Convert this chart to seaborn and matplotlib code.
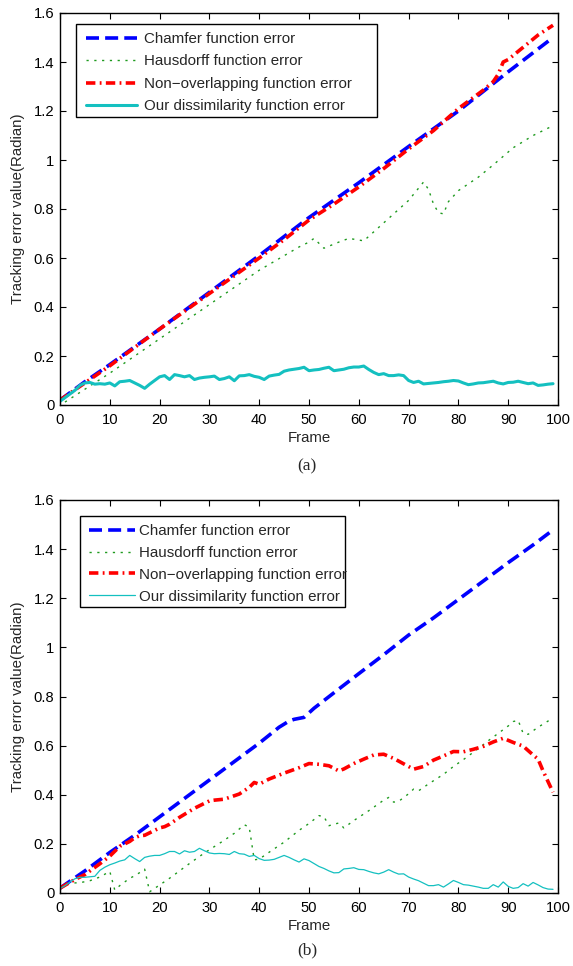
import matplotlib
matplotlib.use("Agg")
import matplotlib.pyplot as plt
from matplotlib.patches import Rectangle
import seaborn as sns

# ---------------- shared labels ----------------
series_names = ["Chamfer function error", "Hausdorff function error",
                "Non\u2212overlapping function error", "Our dissimilarity function error"]
x_ticks = [0, 10, 20, 30, 40, 50, 60, 70, 80, 90, 100]
y_ticks = [0, 0.2, 0.4, 0.6, 0.8, 1.0, 1.2, 1.4, 1.6]
y_tick_labels = ["0", "0.2", "0.4", "0.6", "0.8", "1", "1.2", "1.4", "1.6"]
x_label = "Frame"
y_label = "Tracking error value(Radian)"
panel_labels = ["(a)", "(b)"]

# ---------------- panel (a) ----------------
a_chamfer_frames = [0, 5, 10, 20, 30, 40, 50, 60, 70, 80, 90, 99]
a_chamfer_vals = [0.02, 0.095, 0.165, 0.31, 0.46, 0.61, 0.765, 0.907, 1.055, 1.2, 1.36, 1.50]

a_haus_frames = [1, 2, 10, 20, 30, 40, 48, 50, 51, 53, 56, 58, 61, 64, 67, 70, 73, 74,
                 75, 76, 77, 78, 80, 84, 87, 91, 95, 99]
a_haus_vals = [0.012, 0.025, 0.13, 0.27, 0.41, 0.55, 0.645, 0.665, 0.68, 0.64, 0.665, 0.68,
               0.67, 0.725, 0.78, 0.835, 0.91, 0.88, 0.82, 0.785, 0.78, 0.83, 0.875, 0.93,
               0.98, 1.05, 1.10, 1.14]

a_nonov_frames = [0, 5, 10, 20, 30, 40, 45, 50, 55, 60, 65, 70, 75, 80, 85, 87, 88, 89,
                  90, 93, 96, 99]
a_nonov_vals = [0.02, 0.09, 0.16, 0.31, 0.455, 0.60, 0.675, 0.755, 0.82, 0.89, 0.965, 1.045,
                1.12, 1.21, 1.285, 1.32, 1.35, 1.40, 1.41, 1.46, 1.51, 1.55]

a_ours_frames = list(range(100))
a_ours_vals = [0.015, 0.03, 0.045, 0.06, 0.08, 0.09, 0.092, 0.085, 0.087, 0.085,
               0.09, 0.078, 0.095, 0.097, 0.1, 0.09, 0.08, 0.068, 0.085, 0.1,
               0.115, 0.12, 0.104, 0.124, 0.12, 0.115, 0.12, 0.104, 0.11, 0.113,
               0.115, 0.118, 0.104, 0.108, 0.115, 0.099, 0.119, 0.12, 0.124, 0.117,
               0.113, 0.104, 0.118, 0.122, 0.125, 0.138, 0.143, 0.146, 0.149, 0.154,
               0.14, 0.143, 0.145, 0.15, 0.154, 0.14, 0.143, 0.146, 0.152, 0.155,
               0.155, 0.159, 0.145, 0.133, 0.124, 0.128, 0.12, 0.12, 0.123, 0.12,
               0.1, 0.092, 0.097, 0.086, 0.088, 0.09, 0.092, 0.095, 0.097, 0.1,
               0.098, 0.09, 0.083, 0.086, 0.09, 0.091, 0.094, 0.097, 0.09, 0.086,
               0.092, 0.093, 0.097, 0.092, 0.087, 0.09, 0.08, 0.082, 0.085, 0.087]

# ---------------- panel (b) ----------------
b_chamfer_frames = [0, 5, 10, 15, 20, 25, 30, 35, 40, 44, 46, 47, 49, 51, 55, 60, 65, 70,
                    75, 80, 85, 90, 95, 99]
b_chamfer_vals = [0.02, 0.09, 0.165, 0.235, 0.31, 0.385, 0.46, 0.535, 0.61, 0.675, 0.70,
                  0.707, 0.715, 0.752, 0.815, 0.893, 0.97, 1.05, 1.12, 1.195, 1.27, 1.345,
                  1.417, 1.478]

b_haus_frames = [0, 2, 4, 6, 8, 10, 11, 12, 13, 14, 15, 16, 17, 18, 22, 26, 29, 33, 35,
                 37, 38, 39, 40, 42, 45, 48, 50, 52, 53, 54, 55, 56, 57, 59, 62, 65, 66,
                 67, 68, 70, 71, 72, 74, 77, 79, 81, 84, 86, 88, 90, 91, 92, 93, 94, 96,
                 98, 99]
b_haus_vals = [0.02, 0.04, 0.042, 0.05, 0.065, 0.088, 0.012, 0.03, 0.045, 0.06, 0.07, 0.083,
               0.097, 0.005, 0.06, 0.12, 0.163, 0.215, 0.243, 0.278, 0.268, 0.135, 0.138,
               0.166, 0.207, 0.255, 0.283, 0.315, 0.311, 0.274, 0.28, 0.285, 0.265, 0.295,
               0.335, 0.378, 0.389, 0.37, 0.373, 0.404, 0.423, 0.416, 0.444, 0.483, 0.515,
               0.543, 0.588, 0.62, 0.65, 0.68, 0.698, 0.703, 0.65, 0.646, 0.675, 0.70, 0.714]

b_nonov_frames = [0, 3, 5, 8, 10, 12, 14, 15, 16, 17, 18, 20, 21, 22, 24, 27, 28, 30, 31,
                  33, 36, 38, 39, 40, 42, 45, 48, 50, 52, 54, 56, 57, 59, 61, 63, 65, 67,
                  69, 71, 73, 75, 77, 79, 81, 83, 85, 87, 89, 91, 93, 95, 96, 97, 99]
b_nonov_vals = [0.02, 0.055, 0.075, 0.119, 0.15, 0.19, 0.21, 0.225, 0.233, 0.235, 0.245,
                0.265, 0.27, 0.28, 0.308, 0.345, 0.355, 0.375, 0.378, 0.382, 0.403, 0.43,
                0.45, 0.443, 0.464, 0.488, 0.51, 0.527, 0.524, 0.518, 0.497, 0.505, 0.527,
                0.545, 0.562, 0.565, 0.548, 0.526, 0.504, 0.515, 0.541, 0.558, 0.576, 0.575,
                0.585, 0.597, 0.615, 0.63, 0.613, 0.598, 0.562, 0.545, 0.497, 0.41]

b_ours_frames = list(range(100))
b_ours_vals = [0.018, 0.03, 0.045, 0.058, 0.064, 0.064, 0.066, 0.068, 0.092, 0.105,
               0.115, 0.122, 0.13, 0.135, 0.153, 0.14, 0.128, 0.145, 0.15, 0.153,
               0.153, 0.16, 0.169, 0.169, 0.159, 0.172, 0.166, 0.169, 0.182, 0.172,
               0.163, 0.16, 0.161, 0.16, 0.157, 0.169, 0.16, 0.158, 0.149, 0.153,
               0.14, 0.133, 0.134, 0.137, 0.145, 0.153, 0.145, 0.135, 0.126, 0.139,
               0.132, 0.12, 0.108, 0.1, 0.09, 0.082, 0.083, 0.098, 0.1, 0.103,
               0.096, 0.095, 0.088, 0.082, 0.078, 0.085, 0.095, 0.085, 0.077, 0.078,
               0.065, 0.057, 0.05, 0.04, 0.03, 0.03, 0.034, 0.024, 0.037, 0.051,
               0.043, 0.034, 0.032, 0.028, 0.024, 0.019, 0.019, 0.034, 0.024, 0.045,
               0.027, 0.019, 0.022, 0.038, 0.028, 0.043, 0.033, 0.022, 0.016, 0.015]

# ---------------- styling ----------------
sns.set_style("ticks")
plt.rcParams["font.family"] = ["Liberation Sans", "DejaVu Sans"]
plt.rcParams["font.size"] = 10.6
plt.rcParams["axes.linewidth"] = 1.0

c_blue, c_green, c_red, c_cyan = "#0000FF", "#1E9A1E", "#FF0000", "#14C0C0"
ls_blue = (0, (3.6, 1.7))
ls_green = (0, (1.6, 4.0))
ls_red = (0, (2.6, 1.2, 0.5, 1.2))

fig = plt.figure(figsize=(5.73, 9.66), dpi=100)
W, H = 573.0, 966.0
AX_L, AX_W = 60.0, 498.0
ax_a = fig.add_axes([AX_L / W, 1 - 405 / H, AX_W / W, 392 / H])
ax_b = fig.add_axes([AX_L / W, 1 - 893 / H, AX_W / W, 393 / H])


def draw(ax, data, cyan_lw, ax_top, ax_h, box, leg_anchor, hlen, htpad, lspace):
    (cf, cv), (hf, hv), (nf, nv), (of, ov) = data
    sns.lineplot(x=cf, y=cv, ax=ax, color=c_blue, lw=2.6, linestyle=ls_blue,
                 label=series_names[0])
    sns.lineplot(x=hf, y=hv, ax=ax, color=c_green, lw=1.0, linestyle=ls_green,
                 label=series_names[1])
    sns.lineplot(x=nf, y=nv, ax=ax, color=c_red, lw=2.6, linestyle=ls_red,
                 label=series_names[2])
    sns.lineplot(x=of, y=ov, ax=ax, color=c_cyan, lw=cyan_lw, linestyle="-",
                 label=series_names[3])
    ax.set_xlim(0, 100)
    ax.set_ylim(0, 1.6)
    ax.set_xticks(x_ticks)
    ax.set_xticklabels([str(t) for t in x_ticks])
    ax.set_yticks(y_ticks)
    ax.set_yticklabels(y_tick_labels)
    ax.tick_params(direction="in", top=True, right=True, length=4, width=0.8,
                   labelsize=10.6, colors="black")
    ax.tick_params(axis="x", pad=6)
    ax.tick_params(axis="y", pad=4)
    for s in ax.spines.values():
        s.set_visible(True)
        s.set_color("black")
        s.set_linewidth(1.0)
    ax.set_xlabel(x_label, fontsize=10.8, labelpad=3)
    ax.set_ylabel(y_label, fontsize=10.8, labelpad=6)

    # legend box (pixel coords of the reference) drawn as a frame behind the legend
    x0, y0, x1, y1 = box
    rect = Rectangle(((x0 - AX_L) / AX_W, 1 - (y1 - ax_top) / ax_h),
                     (x1 - x0) / AX_W, (y1 - y0) / ax_h, transform=ax.transAxes,
                     facecolor="white", edgecolor="black", linewidth=1.0,
                     zorder=4.5, clip_on=False)
    ax.add_patch(rect)
    lx, ly = leg_anchor
    leg = ax.legend(loc="upper left",
                    bbox_to_anchor=((lx - AX_L) / AX_W, 1 - (ly - ax_top) / ax_h),
                    borderaxespad=0, borderpad=0, frameon=False,
                    fontsize=10.9, handlelength=hlen, handletextpad=htpad,
                    labelspacing=lspace)
    leg.set_zorder(5)


draw(ax_a, [(a_chamfer_frames, a_chamfer_vals), (a_haus_frames, a_haus_vals),
            (a_nonov_frames, a_nonov_vals), (a_ours_frames, a_ours_vals)],
     2.2, 13.0, 392.0, (76, 24, 377, 117), (86, 32), 3.38, 0.46, 0.56)
draw(ax_b, [(b_chamfer_frames, b_chamfer_vals), (b_haus_frames, b_haus_vals),
            (b_nonov_frames, b_nonov_vals), (b_ours_frames, b_ours_vals)],
     0.9, 500.0, 393.0, (80, 516, 345, 607), (89, 524), 3.05, 0.27, 0.52)

fig.text(307 / W, 1 - 466 / H, panel_labels[0], ha="center", va="center",
         fontsize=12.5, family=["Liberation Serif", "DejaVu Serif"])
fig.text(307 / W, 1 - 950 / H, panel_labels[1], ha="center", va="center",
         fontsize=12.5, family=["Liberation Serif", "DejaVu Serif"])

fig.savefig("out.png", dpi=100)
